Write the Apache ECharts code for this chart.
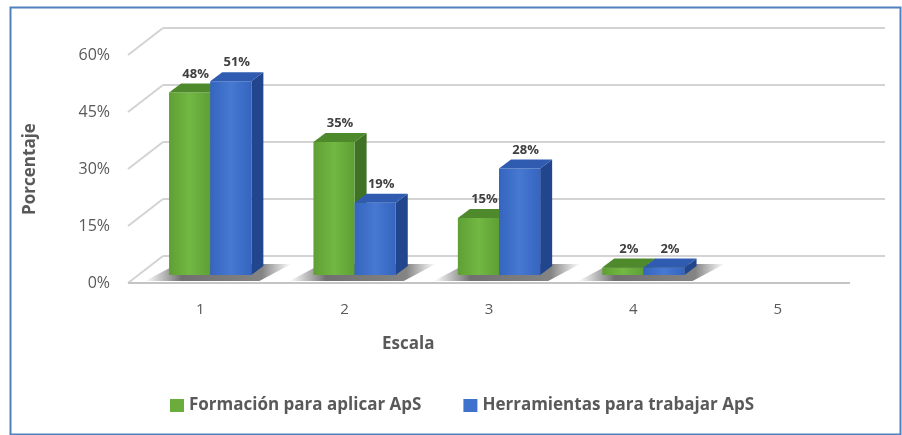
<!DOCTYPE html>
<html>
<head>
<meta charset="utf-8">
<script src="https://cdn.jsdelivr.net/npm/echarts@6/dist/echarts.min.js"></script>
<style>
  html, body { margin: 0; padding: 0; background: #fff; }
  #main { width: 902px; height: 435px; }
</style>
</head>
<body>
<div id="main"></div>
<script>
// datos
var escala = ['1', '2', '3', '4', '5']
var formacion = [48, 35, 15, 2, 0]
var herramientas = [51, 19, 28, 2, 0]
var ticks = [0, 15, 30, 45, 60]

// profundidad del "3D"
var DX = 35, DY = -27      // fondo de la pared
var OX = 10, OY = -8       // plano frontal de las barras
var BDX = 12, BDY = -9     // profundidad de cada barra
var BAR = 0.285            // ancho de barra / ancho de categoria

var chart = echarts.init(document.getElementById('main'))

function wallItem(params, api) {
  var cs = params.coordSys
  var v = api.value(1)
  var y = api.coord([0, v])[1]
  var col = '#d3d3d3'
  var children = [
    { type: 'line', shape: { x1: cs.x, y1: y, x2: cs.x + DX, y2: y + DY }, style: { stroke: col, lineWidth: 2 } },
    { type: 'line', shape: { x1: cs.x + DX, y1: y + DY, x2: cs.x + cs.width + DX, y2: y + DY }, style: { stroke: col, lineWidth: 2 } }
  ]
  if (v === 0) {
    children.push({ type: 'line', shape: { x1: cs.x, y1: y, x2: cs.x + cs.width, y2: y }, style: { stroke: '#c4c4c4', lineWidth: 2 } })
  }
  return { type: 'group', children: children }
}

function shadowItem(params, api) {
  var i = api.value(0)
  if (formacion[i] <= 0 && herramientas[i] <= 0) return
  var base = api.coord([i, 0])
  var band = api.size([1, 0])[0]
  var w = band * BAR
  var xl = base[0] - w + OX, xr = base[0] + w + OX
  var yb = base[1] + OY
  return {
    type: 'polygon',
    shape: { points: [[xl - 24, yb + 6], [xr + 8, yb + 6], [xr + BDX + 28, yb + BDY - 2], [xl + BDX - 4, yb + BDY - 2]] },
    style: {
      fill: new echarts.graphic.LinearGradient(0, 0, 1, 0, [
        { offset: 0, color: 'rgba(60,60,60,0)' },
        { offset: 0.25, color: 'rgba(50,50,50,0.7)' },
        { offset: 0.8, color: 'rgba(50,50,50,0.6)' },
        { offset: 1, color: 'rgba(60,60,60,0)' }
      ])
    },
    silent: true
  }
}

function barRenderer(side, front, top, right) {
  return function (params, api) {
    var i = api.value(0)
    var v = api.value(1)
    var base = api.coord([i, 0])
    var tp = api.coord([i, v])
    var band = api.size([1, 0])[0]
    var w = band * BAR
    var x0 = base[0] + OX + (side < 0 ? -w : 0)
    var x1 = x0 + w
    var yb = base[1] + OY
    var yt = tp[1] + OY
    if (yb - yt < 3) yt = yb - 3
    var frontFill = new echarts.graphic.LinearGradient(0, 0, 1, 0, [
      { offset: 0, color: front[0] },
      { offset: 0.5, color: front[1] },
      { offset: 1, color: front[0] }
    ])
    return {
      type: 'group',
      children: [
        { type: 'polygon', shape: { points: [[x1, yt], [x1 + BDX, yt + BDY], [x1 + BDX, yb + BDY], [x1, yb]] }, style: { fill: right } },
        { type: 'rect', shape: { x: x0, y: yt, width: w, height: yb - yt }, style: { fill: frontFill } },
        { type: 'polygon', shape: { points: [[x0, yt], [x1, yt], [x1 + BDX, yt + BDY], [x0 + BDX, yt + BDY]] }, style: { fill: top } },
        {
          type: 'text',
          style: {
            text: v + '%', x: (x0 + x1) / 2 + BDX / 2, y: yt + BDY - 3,
            align: 'center', verticalAlign: 'bottom',
            font: 'bold 13px "Open Sans", sans-serif', fill: '#404040'
          }
        }
      ]
    }
  }
}

var option = {
  backgroundColor: '#fff',
  textStyle: { fontFamily: '"Open Sans", sans-serif' },
  grid: { left: 128, right: 52, top: 55, bottom: 152 },
  xAxis: {
    type: 'category',
    data: escala,
    axisLine: { show: false },
    axisTick: { show: false },
    axisLabel: { margin: 19, fontSize: 15, color: '#595959' },
    splitLine: { show: false }
  },
  yAxis: {
    type: 'value',
    min: 0, max: 60, interval: 15,
    name: 'Porcentaje',
    nameLocation: 'middle',
    nameGap: 89,
    nameTextStyle: { fontSize: 17, fontWeight: 'bold', color: '#595959' },
    axisLine: { show: false },
    axisTick: { show: false },
    splitLine: { show: false },
    axisLabel: { margin: 18, fontSize: 16, color: '#595959', formatter: '{value}%' }
  },
  legend: {
    data: ['Formación para aplicar ApS', 'Herramientas para trabajar ApS'],
    left: 165, top: 392,
    icon: 'rect', itemWidth: 14, itemHeight: 13, itemGap: 42,
    textStyle: { fontSize: 17, fontWeight: 'bold', color: '#595959' }
  },
  graphic: [
    { type: 'rect', left: 8, top: 5, shape: { width: 890, height: 427 }, style: { fill: 'none', stroke: '#4f81bd', lineWidth: 2 }, silent: true },
    { type: 'text', left: 382, top: 336, style: { text: 'Escala', font: 'bold 17px "Open Sans", sans-serif', fill: '#595959' } }
  ],
  series: [
    {
      type: 'custom', name: 'walls', silent: true,
      data: ticks.map(function (t) { return [0, t] }),
      encode: { x: 0, y: 1 },
      renderItem: wallItem, z: 1
    },
    {
      type: 'custom', name: 'shadow', silent: true,
      data: escala.map(function (c, i) { return [i, 0] }),
      encode: { x: 0, y: 1 },
      renderItem: shadowItem, z: 2
    },
    {
      type: 'custom', name: 'Formación para aplicar ApS',
      itemStyle: { color: '#6aad3d' },
      data: formacion.map(function (v, i) { return [i, v] }).filter(function (d) { return d[1] > 0 }),
      encode: { x: 0, y: 1 },
      renderItem: barRenderer(-1, ['#5f9f35', '#72b843'], '#4e8a2b', '#3f7224'), z: 3
    },
    {
      type: 'custom', name: 'Herramientas para trabajar ApS',
      itemStyle: { color: '#3f72cc' },
      data: herramientas.map(function (v, i) { return [i, v] }).filter(function (d) { return d[1] > 0 }),
      encode: { x: 0, y: 1 },
      renderItem: barRenderer(1, ['#3565be', '#4779d2'], '#2f5cb0', '#22468e'), z: 4
    }
  ]
}

chart.setOption(option)
</script>
</body>
</html>
